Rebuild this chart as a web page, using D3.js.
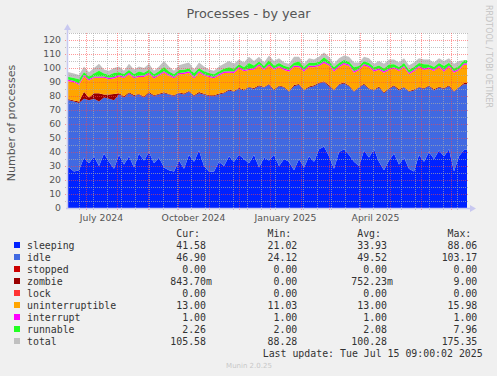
<!DOCTYPE html>
<html>
<head>
<meta charset="utf-8">
<script src="https://cdn.jsdelivr.net/npm/d3@7"></script>
<style>
  body { margin: 0; background: #f0f0f0; }
  svg { display: block; }
  text { font-family: "DejaVu Sans", sans-serif; }
  .mono { font-family: "DejaVu Sans Mono", monospace; font-size: 9.9px; fill: #333; }
</style>
</head>
<body>
<svg id="chart"></svg>
<script>
// one sample every 5 days, starting 12 Jun 2024
const sleeping = [29,26,27,36,32,37,30,39,33,28, 38,31,37,29,39,34,40,32,36,29,
  27,26,34,28,38,33,41,30,26,26, 33,30,37,33,38,35,32,38,29,36,
  34,38,30,35,33,27,35,29,37,33, 42,44,37,28,40,42,38,33,30,41,
  36,42,33,27,34,39,31,36,28,26, 38,33,40,35,41,37,42,26,37,41.58];
const idle = [48,50,48,42,45,41,46,40,45,49, 43,48,45,51,42,45,42,48,45,53,
  54,54,48,53,45,47,41,51,54,54, 48,52,47,50,47,49,54,47,58,50,
  54,46,57,51,50,60,53,55,49,54, 47,46,50,56,48,47,49,50,56,47,
  49,42,53,55,51,48,53,50,55,58, 48,52,47,49,45,48,45,57,49,46.9];
const zombie = [0.6,0.8,1.0,5.0,2.0,4.0,6.0,2.0,3.0,4.5, 1.0,0.8,0.6,0.7,0.5,0.6,0.8,0.5,0.6,0.7,
  0.5,0.6,0.5,0.7,0.6,0.5,0.8,0.6,0.5,0.6, 0.7,0.5,0.6,0.5,0.7,0.6,0.5,0.8,0.6,0.5,
  0.6,0.7,0.5,0.6,0.5,0.8,0.6,0.5,0.7,0.6, 0.5,0.6,0.8,0.5,0.6,0.7,0.5,0.6,0.5,0.8,
  0.6,0.5,0.7,0.6,0.5,0.6,0.8,0.5,0.6,0.7, 0.5,0.6,0.5,0.8,0.6,0.5,0.7,0.6,0.5,0.84];
const uninterruptible = [13,13,12,11,12,11,11,12,11,11, 12,13,13,12,12,14,13,12,13,14,
  13,12,13,14,13,12,14,13,13,12, 13,14,12,13,14,13,12,13,14,12,
  13,14,13,12,14,13,12,13,14,13, 12,13,14,13,12,13,14,13,12,13,
  15,13,12,14,13,12,13,14,12,13, 14,13,12,13,14,12,13,13,12,13];
const interrupt = [1,1,1,1,1,1,1,1,1,1, 1,1,1,1,1,1,1,1,1,1,
  1,1,1,1,1,1,1,1,1,1, 1,1,1,1,1,1,1,1,1,1,
  1,1,1,1,1,1,1,1,1,1, 1,1,1,1,1,1,1,1,1,1,
  1,1,1,1,1,1,1,1,1,1, 1,1,1,1,1,1,1,1,1,1];
const runnable = [2,2,3,2,2,2,4,2,2,3, 2,2,2,2,3,2,2,2,2,3,
  2,2,2,2,2,3,2,2,2,2, 2,2,3,2,2,2,4,2,2,2,
  3,2,2,2,2,2,3,2,2,2, 2,3,2,2,2,2,2,3,2,2,
  2,2,2,2,3,2,2,2,2,2, 2,3,2,2,2,3,2,2,2,2.26];
// top of the grey total line (it jitters above the stack)
const total = [97,96,95,101,97,100,103,99,98,100, 101,98,103,99,101,100,103,98,101,105,
  101,98,102,103,104,99,104,101,99,98, 101,103,105,103,106,104,108,105,108,104,
  109,105,107,104,103,108,108,103,107,106, 108,111,108,103,107,109,108,104,104,108,
  107,103,105,103,106,106,104,107,102,104, 107,106,106,104,107,105,107,103,105,105.58];

// legend table
const legendNames = ["sleeping","idle","stopped","zombie","lock","uninterruptible","interrupt","runnable","total"];
const legendColors = ["#0022ff","#4169e1","#cc0000","#990000","#ff3333","#ffa500","#ff00ff","#22ff22","#c0c0c0"];
const curVals = ["41.58","46.90","0.00","843.70m","0.00","13.00","1.00","2.26","105.58"];
const minVals = ["21.02","24.12","0.00","0.00","0.00","11.03","1.00","2.00","88.28"];
const avgVals = ["33.93","49.52","0.00","752.23m","0.00","13.00","1.00","2.08","100.28"];
const maxVals = ["88.06","103.17","0.00","9.00","0.00","15.98","1.00","7.96","175.35"];

const stackKeys = ["sleeping","idle","zombie","uninterruptible","interrupt","runnable"];
const stackColors = {sleeping:"#0022ff", idle:"#4169e1", zombie:"#990000",
  uninterruptible:"#ffa500", interrupt:"#ff00ff", runnable:"#22ff22"};

const W = 497, H = 376;
const plot = {left: 67, right: 467, top: 33, bottom: 208};
const start = new Date(Date.UTC(2024, 5, 12));
const end = new Date(Date.UTC(2025, 6, 17));
const stepDays = 5;

const svg = d3.select("#chart").attr("width", W).attr("height", H);

const x = d3.scaleUtc().domain([start, end]).range([plot.left, plot.right]);
const y = d3.scaleLinear().domain([0, 125]).range([plot.bottom, plot.top]);

let rows = sleeping.map((s, i) => ({
  date: d3.utcDay.offset(start, i * stepDays + 2),
  sleeping: s, idle: idle[i], zombie: zombie[i], uninterruptible: uninterruptible[i],
  interrupt: interrupt[i], runnable: runnable[i], total: total[i]
}));
// hold the first / last sample out to the plot edges
rows.unshift(Object.assign({}, rows[0], {date: start}));
rows.push(Object.assign({}, rows[rows.length - 1], {date: end}));

// plot background
svg.append("rect")
  .attr("x", plot.left).attr("y", plot.top)
  .attr("width", plot.right - plot.left).attr("height", plot.bottom - plot.top)
  .attr("fill", "#fff");

const series = d3.stack().keys(stackKeys)(rows);
const stackTop = series[series.length - 1];

// grey total band first, the stack covers it
svg.append("path")
  .datum(rows)
  .attr("fill", "#c0c0c0")
  .attr("d", d3.area()
    .x(d => x(d.date))
    .y0((d, i) => y(stackTop[i][1]))
    .y1(d => y(d.total)));

svg.append("g").selectAll("path")
  .data(series)
  .join("path")
  .attr("fill", d => stackColors[d.key])
  .attr("d", d3.area()
    .x(d => x(d.data.date))
    .y0(d => y(d[0]))
    .y1(d => y(d[1])));

// grid (drawn over the data, like rrdtool)
const grid = svg.append("g").attr("fill", "none").attr("stroke-dasharray", "1,1");
const minorY = d3.range(5, 126, 10);
const majorY = d3.range(0, 121, 10);
grid.selectAll(".hmin").data(minorY).join("line")
  .attr("x1", plot.left - 2).attr("x2", plot.right + 2)
  .attr("y1", d => Math.round(y(d)) + 0.5).attr("y2", d => Math.round(y(d)) + 0.5)
  .attr("stroke", "rgba(170,170,170,0.7)");
grid.selectAll(".hmaj").data(majorY.slice(1)).join("line")
  .attr("x1", plot.left - 2).attr("x2", plot.right + 2)
  .attr("y1", d => Math.round(y(d)) + 0.5).attr("y2", d => Math.round(y(d)) + 0.5)
  .attr("stroke", "rgba(255,70,70,0.55)");

const minorX = d3.utcDay.range(new Date(Date.UTC(2024, 5, 24)), end, 14);
const majorX = d3.utcMonth.range(start, end);
grid.selectAll(".vmin").data(minorX).join("line")
  .attr("x1", d => Math.round(x(d)) + 0.5).attr("x2", d => Math.round(x(d)) + 0.5)
  .attr("y1", plot.top).attr("y2", plot.bottom + 2)
  .attr("stroke", "rgba(170,170,170,0.7)");
grid.selectAll(".vmaj").data(majorX).join("line")
  .attr("x1", d => Math.round(x(d)) + 0.5).attr("x2", d => Math.round(x(d)) + 0.5)
  .attr("y1", plot.top).attr("y2", plot.bottom + 3)
  .attr("stroke", "rgba(255,70,70,0.55)");

// axes with arrows
const axisColor = "#c8c8f0";
svg.append("line")
  .attr("x1", plot.left - 1).attr("x2", plot.right + 3)
  .attr("y1", plot.bottom + 0.5).attr("y2", plot.bottom + 0.5)
  .attr("stroke", axisColor).attr("stroke-width", 1.5);
svg.append("line")
  .attr("x1", plot.left + 0.5).attr("x2", plot.left + 0.5)
  .attr("y1", plot.bottom + 1).attr("y2", plot.top - 3)
  .attr("stroke", axisColor).attr("stroke-width", 1.5);
svg.append("path")
  .attr("d", `M${plot.right + 3},${plot.bottom - 3} L${plot.right + 9},${plot.bottom + 0.5} L${plot.right + 3},${plot.bottom + 4} Z`)
  .attr("fill", axisColor);
svg.append("path")
  .attr("d", `M${plot.left - 3},${plot.top - 3} L${plot.left + 0.5},${plot.top - 9} L${plot.left + 4},${plot.top - 3} Z`)
  .attr("fill", axisColor);

// tick labels
svg.append("g").selectAll("text").data(majorY).join("text")
  .attr("x", 61).attr("y", d => y(d) + 3.3)
  .attr("text-anchor", "end").attr("font-size", 9.3).attr("fill", "#555")
  .text(d => d);

// quarter labels sit mid-month; drop the one that would run off the plot
const labelMonths = d3.utcMonth.every(3).range(start, end)
  .filter(d => x(d) + 15.5 + 30 < plot.right);
svg.append("g").selectAll("text").data(labelMonths).join("text")
  .attr("x", d => x(d) + 15.5).attr("y", 220.5)
  .attr("text-anchor", "middle").attr("font-size", 9.3).attr("fill", "#555")
  .text(d3.utcFormat("%B %Y"));

// titles
svg.append("text").attr("x", 248.5).attr("y", 18)
  .attr("text-anchor", "middle").attr("font-size", 12.8).attr("fill", "#555")
  .text("Processes - by year");
svg.append("text").attr("transform", "translate(14.5,123) rotate(-90)")
  .attr("text-anchor", "middle").attr("font-size", 11).attr("fill", "#555")
  .text("Number of processes");
svg.append("text").attr("transform", "translate(486,5) rotate(90)")
  .attr("font-size", 8).attr("fill", "#c4c4c4")
  .text("RRDTOOL / TOBI OETIKER");

// legend
const colEnds = [206, 297.3, 387, 477.3];
const heads = ["Cur:", "Min:", "Avg:", "Max:"];
const cols = [curVals, minVals, avgVals, maxVals];
const legend = svg.append("g");
heads.forEach((h, c) => {
  legend.append("text").attr("class", "mono")
    .attr("x", colEnds[c] - 6).attr("y", 237).attr("text-anchor", "end").text(h);
});
legendNames.forEach((name, i) => {
  const by = 249 + 12 * i;
  legend.append("rect").attr("x", 14).attr("y", by - 7).attr("width", 6).attr("height", 6)
    .attr("fill", legendColors[i]);
  legend.append("text").attr("class", "mono").attr("x", 27).attr("y", by).text(name);
  cols.forEach((vals, c) => {
    const v = vals[i];
    const num = v.endsWith("m") ? v.slice(0, -1) : v;
    legend.append("text").attr("class", "mono").attr("x", colEnds[c]).attr("y", by)
      .attr("text-anchor", "end").text(num);
    if (v.endsWith("m")) {
      legend.append("text").attr("class", "mono").attr("x", colEnds[c]).attr("y", by).text("m");
    }
  });
});
legend.append("text").attr("class", "mono").attr("x", 482.7).attr("y", 357)
  .attr("text-anchor", "end").text("Last update: Tue Jul 15 09:00:02 2025");
svg.append("text").attr("x", 249).attr("y", 368).attr("text-anchor", "middle")
  .attr("font-size", 7).attr("fill", "#c8c8c8").text("Munin 2.0.25");
</script>
</body>
</html>
